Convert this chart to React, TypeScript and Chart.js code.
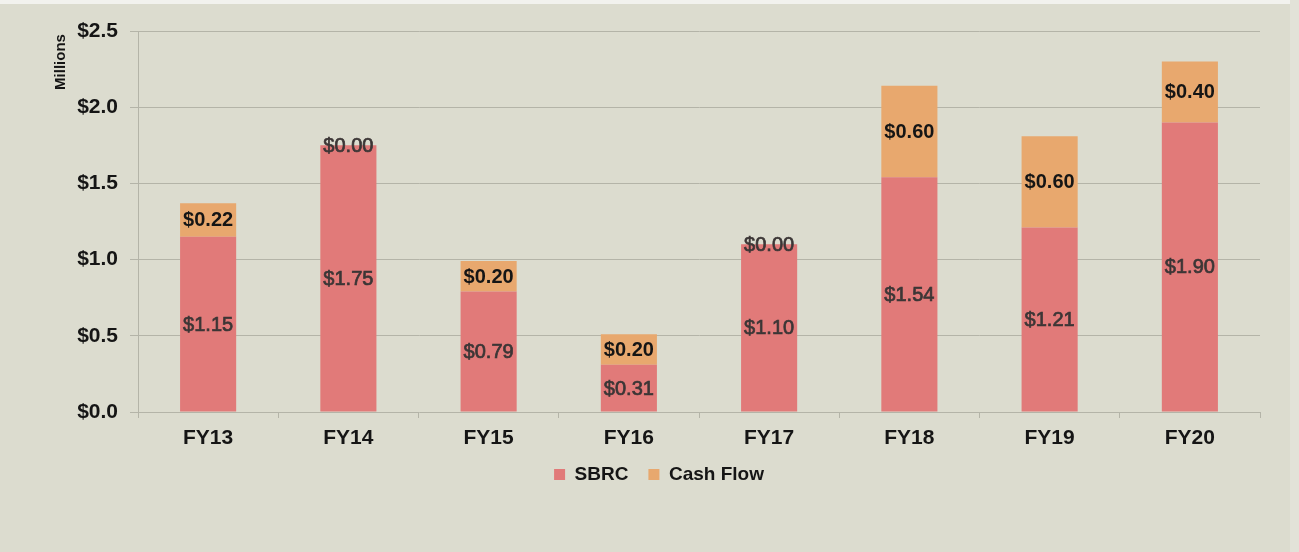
import { useEffect, useRef } from "react";
import { Chart, registerables } from "chart.js";

Chart.register(...registerables);

const categories = ["FY13", "FY14", "FY15", "FY16", "FY17", "FY18", "FY19", "FY20"];
const sbrcValues = [1.15, 1.75, 0.79, 0.31, 1.1, 1.54, 1.21, 1.9];
const cashFlowValues = [0.22, 0.0, 0.2, 0.2, 0.0, 0.6, 0.6, 0.4];
const seriesNames = ["SBRC", "Cash Flow"];
const axisTitle = "Millions";

const FONT = "'Liberation Sans', Arial, sans-serif";
const BG = "#dcdccf";
const RED = "#e17a79";
const ORANGE = "#e8a86e";
const GRID = "#b4b4a8";

const bgPlugin = {
  id: "bg",
  beforeDraw(chart: any) {
    const { ctx, width, height } = chart;
    ctx.save();
    ctx.fillStyle = BG;
    ctx.fillRect(0, 0, width, height);
    ctx.fillStyle = "#f2f2ee";
    ctx.fillRect(0, 0, width, 4);
    ctx.fillStyle = "#e2e2d8";
    ctx.fillRect(width - 9, 0, 9, height);
    ctx.restore();
  },
};

const labelPlugin = {
  id: "valueLabels",
  afterDatasetsDraw(chart: any) {
    const { ctx } = chart;
    ctx.save();
    ctx.textAlign = "center";
    ctx.textBaseline = "middle";
    chart.data.datasets.forEach((ds: any, di: number) => {
      const meta = chart.getDatasetMeta(di);
      meta.data.forEach((el: any, i: number) => {
        const v = ds.data[i] as number;
        const { x, y, base } = el.getProps(["x", "y", "base"], true);
        const cy = (y + base) / 2 + 1;
        const bold = di === 1 && v > 0;
        const text = "$" + v.toFixed(2);
        if (bold) {
          ctx.font = `bold 20px ${FONT}`;
          ctx.fillStyle = "#151515";
          ctx.fillText(text, x, cy);
        } else {
          ctx.font = `20px ${FONT}`;
          ctx.fillStyle = "#3c3636";
          ctx.strokeStyle = "#3c3636";
          ctx.lineWidth = 0.7;
          ctx.fillText(text, x, cy);
          ctx.strokeText(text, x, cy);
        }
      });
    });
    ctx.restore();
  },
  afterDraw(chart: any) {
    const { ctx } = chart;
    ctx.save();
    ctx.translate(61, 62);
    ctx.rotate(-Math.PI / 2);
    ctx.font = `bold 15px ${FONT}`;
    ctx.fillStyle = "#151515";
    ctx.textAlign = "center";
    ctx.textBaseline = "middle";
    ctx.fillText(axisTitle, 0, 0);
    ctx.restore();
  },
};

export default function App() {
  const ref = useRef<HTMLCanvasElement>(null);
  useEffect(() => {
    document.body.style.margin = "0";
    document.body.style.overflow = "hidden";
    const chart = new Chart(ref.current as HTMLCanvasElement, {
      type: "bar",
      data: {
        labels: categories,
        datasets: [
          {
            label: seriesNames[0],
            data: sbrcValues,
            backgroundColor: RED,
            categoryPercentage: 0.8,
            barPercentage: 0.5,
          },
          {
            label: seriesNames[1],
            data: cashFlowValues,
            backgroundColor: ORANGE,
            categoryPercentage: 0.8,
            barPercentage: 0.5,
          },
        ],
      },
      options: {
        animation: false,
        responsive: false,
        maintainAspectRatio: false,
        layout: { padding: { left: 58, right: 39, top: 31, bottom: 58 } },
        plugins: {
          legend: {
            position: "bottom",
            labels: {
              boxWidth: 11,
              boxHeight: 11,
              padding: 20,
              color: "#151515",
              font: { family: FONT, size: 19, weight: "bold" },
            },
          },
          tooltip: { enabled: false },
        },
        scales: {
          x: {
            stacked: true,
            grid: { drawOnChartArea: false, drawTicks: true, tickLength: 6, color: GRID },
            border: { display: false },
            ticks: {
              color: "#151515",
              padding: 8,
              font: { family: FONT, size: 21, weight: "bold" },
            },
            afterFit: (s: any) => {
              s.height = 33;
            },
          },
          y: {
            stacked: true,
            min: 0,
            max: 2.5,
            grid: { color: GRID, tickLength: 8 },
            border: { display: true, color: GRID },
            ticks: {
              stepSize: 0.5,
              color: "#151515",
              padding: 12,
              font: { family: FONT, size: 21, weight: "bold" },
              callback: (v: any) => "$" + Number(v).toFixed(1),
            },
            afterFit: (s: any) => {
              s.width = 80;
            },
          },
        },
      },
      plugins: [bgPlugin, labelPlugin],
    });
    return () => chart.destroy();
  }, []);
  return <canvas ref={ref} width={1299} height={552} style={{ display: "block" }} />;
}
